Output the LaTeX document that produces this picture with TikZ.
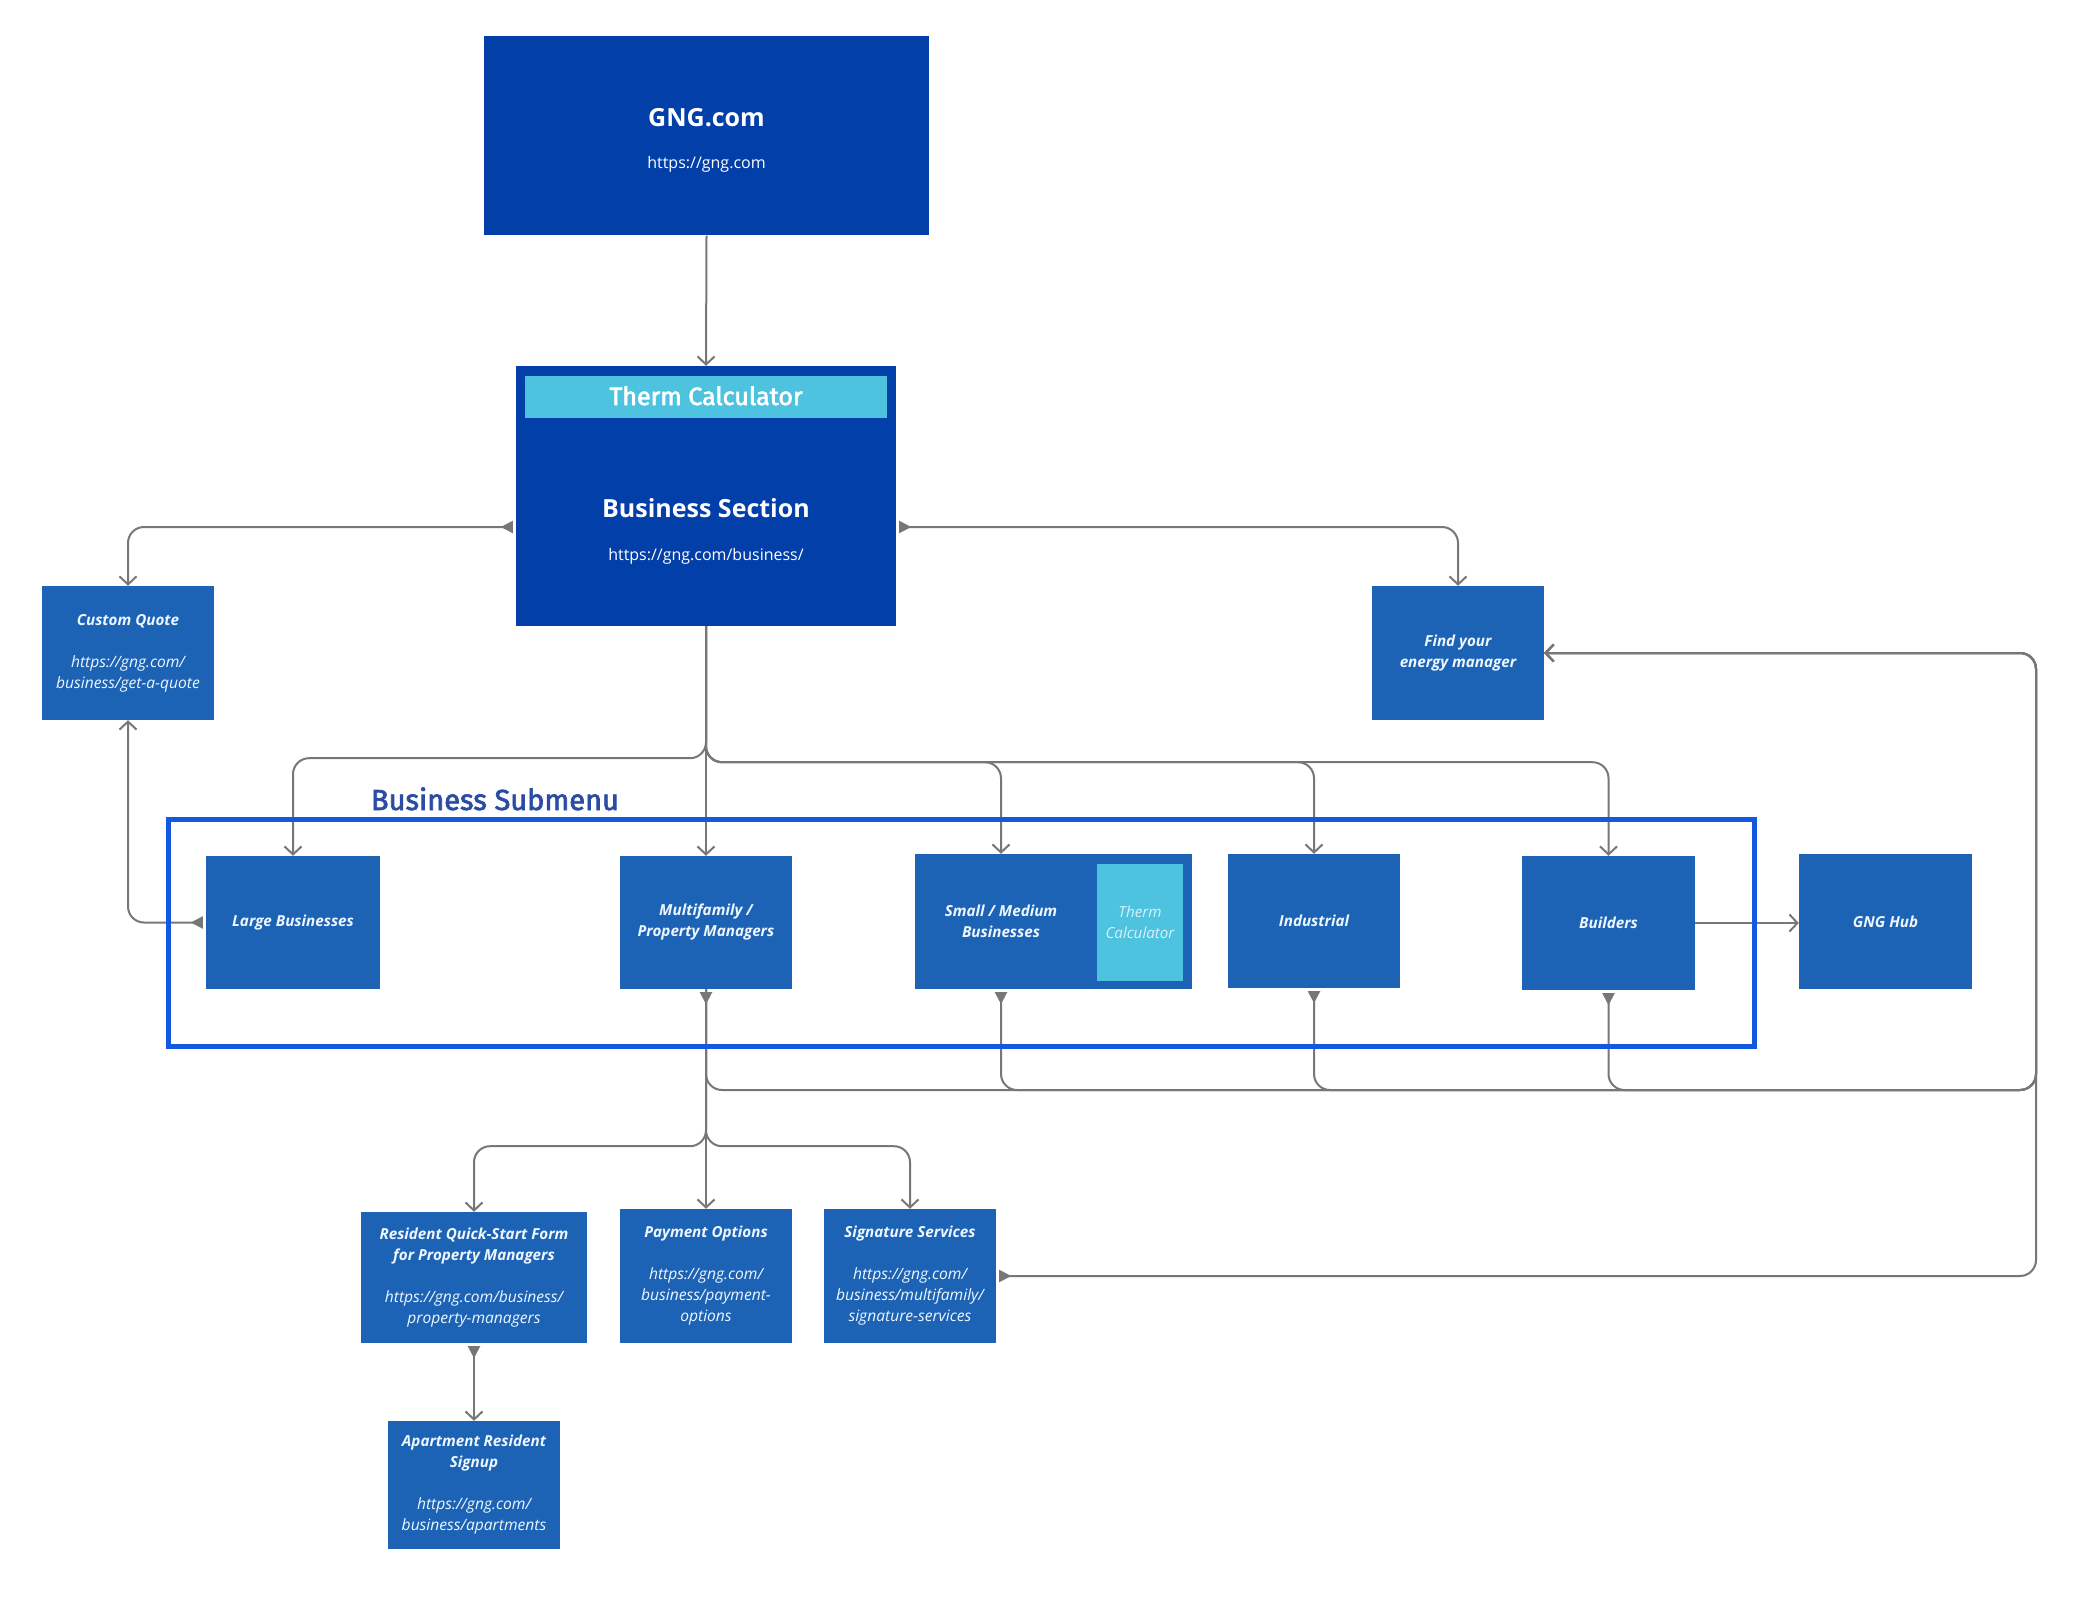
\documentclass[tikz,border=0pt]{standalone}
\usepackage{fontspec}
\setmainfont{Open Sans}
\newfontfamily\firamed[FakeBold=2.4]{Fira Sans}
\usetikzlibrary{arrows.meta}
\definecolor{darkblue}{HTML}{033FA8}
\definecolor{midblue}{HTML}{1D63B5}
\definecolor{cyanbar}{HTML}{4DC3E0}
\definecolor{framblue}{HTML}{1259E0}
\definecolor{linegray}{HTML}{777777}
\definecolor{sublabel}{HTML}{2A4CA5}
\definecolor{boxtext}{HTML}{EEF7FF}
\definecolor{tctext}{HTML}{D8F2FA}
\newcommand{\urlfont}{\fontsize{15.6}{21}\selectfont}
\begin{document}
\begin{tikzpicture}[x=1pt,y=-1pt,
  bigbox/.style={fill=darkblue, draw=none, inner sep=0pt},
  sbox/.style={fill=midblue, draw=none, inner sep=0pt, text=boxtext, align=center,
    font=\fontsize{15.2}{21}\selectfont\itshape},
  conn/.style={draw=linegray, line width=2pt, rounded corners=16pt,
    -{Straight Barb[length=8pt,width=17pt]}},
  srcconn/.style={draw=linegray, line width=2pt, rounded corners=16pt, shorten <=3pt,
    {Triangle[reversed,length=12pt,width=12pt]}-{Straight Barb[length=8pt,width=17pt]}},
  bigtitle/.style={anchor=base, text=white, font=\fontsize{25}{30}\selectfont\bfseries},
  bigurl/.style={anchor=base, text=white, font=\fontsize{16}{20}\selectfont},
]
\useasboundingbox (0,0) rectangle (2074,1597);
\fill[white] (0,0) rectangle (2074,1597);

% top boxes
\node[bigbox, minimum width=445pt, minimum height=199pt] (gng) at (706.5,136) {};
\node[bigtitle] (gngt) at (706.5,127) {GNG.com};
\node[bigurl] (gngu) at (706.5,169) {https://gng.com};

\node[bigbox, minimum width=380pt, minimum height=260pt] (bs) at (706,496) {};
\node[fill=cyanbar, minimum width=362pt, minimum height=42pt, inner sep=0pt] (tcbar) at (706,397) {};
\node[anchor=base, text=white, font=\fontsize{25}{30}\firamed] (tct) at (706,405) {Therm Calculator};
\node[bigtitle] (bst) at (706,517) {Business Section};
\node[bigurl] (bsu) at (706,560) {https://gng.com/business/};

\node[sbox, minimum width=172pt, minimum height=134pt] (cq) at (128,653)
  {\bfseries Custom Quote\\[21pt]\urlfont https://gng.com/\\\urlfont business/get-a-quote};
\node[sbox, minimum width=172pt, minimum height=134pt] (fem) at (1458,653)
  {\bfseries Find your\\\bfseries energy manager};

% submenu
\node[anchor=base, text=sublabel, font=\fontsize{29}{34}\firamed] (subl) at (495,810) {Business Submenu};
\node[sbox, minimum width=174pt, minimum height=133pt] (lb) at (293,922.5) {\bfseries Large Businesses};
\node[sbox, minimum width=172pt, minimum height=133pt] (mf) at (706,922.5)
  {\bfseries Multifamily /\\\bfseries Property Managers};
\node[sbox, minimum width=277pt, minimum height=135pt] (sm) at (1053.5,921.5) {};
\node[text=boxtext, align=center, inner sep=0pt, font=\fontsize{15.2}{21}\selectfont\itshape\bfseries]
  (sml) at (1001,921.5) {Small / Medium\\Businesses};
\node[fill=cyanbar, minimum width=86pt, minimum height=117pt, inner sep=0pt, text=tctext,
  align=center, font=\fontsize{15.2}{21}\selectfont\itshape] (smtc) at (1140,922.5) {Therm\\Calculator};
\node[sbox, minimum width=172pt, minimum height=134pt] (ind) at (1314,921) {\bfseries Industrial};
\node[sbox, minimum width=173pt, minimum height=134pt] (bld) at (1608.5,923) {\bfseries Builders};
\node[sbox, minimum width=173pt, minimum height=135pt] (hub) at (1885.5,921.5) {\bfseries GNG Hub};

% lower boxes
\node[sbox, minimum width=226pt, minimum height=131pt] (rq) at (474,1277.5)
  {\bfseries Resident Quick-Start Form\\\bfseries for Property Managers\\[21pt]\urlfont https://gng.com/business/\\\urlfont property-managers};
\node[sbox, minimum width=172pt, minimum height=134pt] (po) at (706,1276)
  {\bfseries Payment Options\\[21pt]\urlfont https://gng.com/\\\urlfont business/payment-\\\urlfont options};
\node[sbox, minimum width=172pt, minimum height=134pt] (ss) at (910,1276)
  {\bfseries Signature Services\\[21pt]\urlfont https://gng.com/\\\urlfont business/multifamily/\\\urlfont signature-services};
\node[sbox, minimum width=172pt, minimum height=128pt] (ap) at (474,1485)
  {\bfseries Apartment Resident\\\bfseries Signup\\[21pt]\urlfont https://gng.com/\\\urlfont business/apartments};

\coordinate (rr) at (2036,1090);
\coordinate (rt) at (2036,653);

% connectors
\draw[conn] (gng.south) -- (bs.north);
\draw[srcconn] ([yshift=-31pt]bs.west) -| (cq.north);
\draw[srcconn] ([yshift=-31pt]bs.east) -| (fem.north);
\draw[conn] (bs.south) -- (mf.north);
\draw[conn] (bs.south) -- ++(0,132) -| (lb.north);
\draw[conn] (bs.south) -- ++(0,136) -| (sml |- sm.north);
\draw[conn] (bs.south) -- ++(0,136) -| (ind.north);
\draw[conn] (bs.south) -- ++(0,136) -| (bld.north);
\draw[srcconn] (lb.west) -| (cq.south);

\draw[srcconn] (mf.south) |- (rr) -- (rt) -- (fem.east);
\draw[srcconn] (sml |- sm.south) |- (rr) -- (rt) -- (fem.east);
\draw[srcconn] (ind.south) |- (rr) -- (rt) -- (fem.east);
\draw[srcconn] (bld.south) |- (rr) -- (rt) -- (fem.east);
\draw[srcconn] (ss.east) -| (rt) -- (fem.east);

\draw[conn] (mf.south) -- ++(0,157) -| (rq.north);
\draw[conn] (mf.south) -- (po.north);
\draw[conn] (mf.south) -- ++(0,157) -| (ss.north);
\draw[srcconn] (rq.south) -- (ap.north);
\draw[conn] (bld.east) -- (bld.east -| hub.west);

% submenu frame
\node[draw=framblue, line width=5pt, minimum width=1586pt, minimum height=227pt, inner sep=0pt] (frame) at (961,932.5) {};
\end{tikzpicture}
\end{document}
